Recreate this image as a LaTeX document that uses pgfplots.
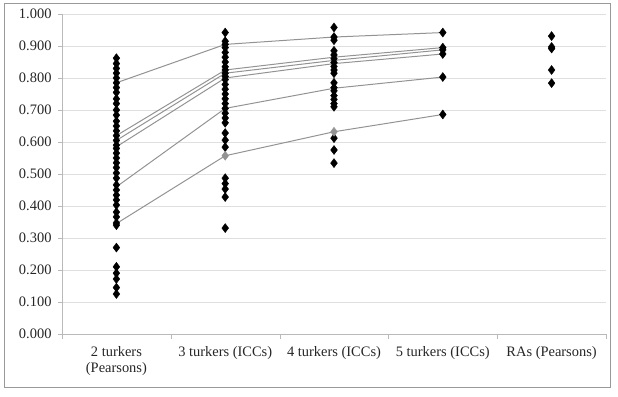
\documentclass[border=0pt]{standalone}
\usepackage{pgfplots}
\pgfplotsset{compat=1.18}
\usepackage{fontspec}
\setmainfont{Liberation Serif}
\begin{document}
\begin{tikzpicture}[x=1bp,y=1bp]
\useasboundingbox (0,0) rectangle (618,396);
\draw[draw=gray!80, line width=1bp] (4,9) rectangle (610,392);
\begin{axis}[
  at={(62bp,62bp)}, anchor=south west,
  scale only axis, width=544bp, height=320bp,
  xmin=0.5, xmax=5.5, ymin=0, ymax=1,
  axis x line*=bottom, axis y line*=left,
  axis line style={draw=gray!55, line width=0.8bp},
  xtick={1,2,3,4,5},
  xticklabels={{2 turkers\\(Pearsons)},{3 turkers (ICCs)},{4 turkers (ICCs)},{5 turkers (ICCs)},{RAs (Pearsons)}},
  xticklabel style={align=center, font=\fontsize{14.5}{16}\selectfont, text=black!85},
  major x tick style={draw=none},
  minor xtick={0.5,1.5,2.5,3.5,4.5,5.5},
  minor x tick style={draw=gray!55},
  minor tick length=5bp,
  tick align=outside,
  ytick={0,0.1,...,1.0},
  yticklabel style={font=\fontsize{14.5}{16}\selectfont, text=black!85},
  /pgf/number format/assume math mode=true,
  /pgf/number format/.cd, fixed, fixed zerofill, precision=3, /pgfplots/.cd,
  major y tick style={draw=gray!55},
  major tick length=4bp,
  ymajorgrids, grid style={draw=gray!25, line width=0.8bp},
  xticklabel shift=5bp, yticklabel shift=3bp,
  clip=false,
]
% connecting lines
\addplot[gray!85!white, line width=1bp, no marks] coordinates {(1,0.785) (2,0.905) (3,0.928) (4,0.942)};
\addplot[gray!85!white, line width=1bp, no marks] coordinates {(1,0.620) (2,0.825) (3,0.865) (4,0.895)};
\addplot[gray!85!white, line width=1bp, no marks] coordinates {(1,0.605) (2,0.815) (3,0.855) (4,0.888)};
\addplot[gray!85!white, line width=1bp, no marks] coordinates {(1,0.585) (2,0.800) (3,0.845) (4,0.875)};
\addplot[gray!85!white, line width=1bp, no marks] coordinates {(1,0.460) (2,0.705) (3,0.768) (4,0.803)};
\addplot[gray!85!white, line width=1bp, no marks] coordinates {(1,0.345) (2,0.557) (3,0.632) (4,0.686)};
% scatter points
\addplot[only marks, mark=diamond*, mark size=4.5bp, mark options={fill=black, draw=black}] coordinates {
(1,0.862) (1,0.845) (1,0.830) (1,0.815) (1,0.800) (1,0.785) (1,0.770) (1,0.755) (1,0.735) (1,0.720)
(1,0.700) (1,0.684) (1,0.665) (1,0.650) (1,0.635) (1,0.620) (1,0.605) (1,0.590) (1,0.580) (1,0.565)
(1,0.550) (1,0.535) (1,0.520) (1,0.503) (1,0.487) (1,0.466) (1,0.450) (1,0.434) (1,0.419) (1,0.403)
(1,0.381) (1,0.366) (1,0.347) (1,0.340) (1,0.270) (1,0.210) (1,0.190) (1,0.172) (1,0.145) (1,0.125)
(2,0.942) (2,0.915) (2,0.905) (2,0.895) (2,0.880) (2,0.865) (2,0.850) (2,0.835) (2,0.825) (2,0.815)
(2,0.805) (2,0.795) (2,0.780) (2,0.765) (2,0.750) (2,0.735) (2,0.720) (2,0.705) (2,0.690) (2,0.675)
(2,0.660) (2,0.628) (2,0.606) (2,0.584) (2,0.487) (2,0.470) (2,0.453) (2,0.428) (2,0.331)
(3,0.958) (3,0.928) (3,0.918) (3,0.885) (3,0.872) (3,0.860) (3,0.848) (3,0.836) (3,0.825) (3,0.815)
(3,0.785) (3,0.770) (3,0.760) (3,0.745) (3,0.733) (3,0.720) (3,0.710) (3,0.612) (3,0.575) (3,0.534)
(4,0.942) (4,0.895) (4,0.888) (4,0.875) (4,0.803) (4,0.686)
(5,0.931) (5,0.897) (5,0.892) (5,0.825) (5,0.784)
};
\addplot[only marks, mark=diamond*, mark size=4.5bp, mark options={fill=gray!85, draw=gray!85}] coordinates {(2,0.557) (3,0.632)};
\end{axis}
\end{tikzpicture}
\end{document}
